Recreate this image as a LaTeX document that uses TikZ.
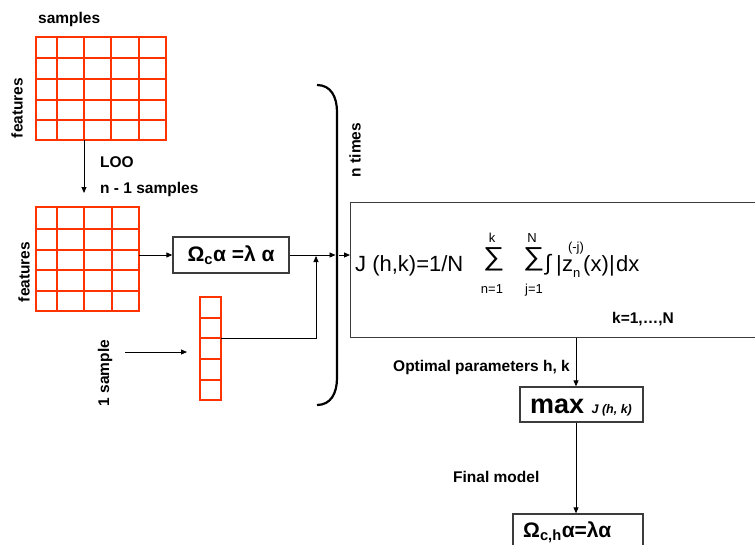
\documentclass[tikz,border=0pt]{standalone}
\usepackage{fontspec}
\setmainfont{Liberation Sans}
\usetikzlibrary{arrows.meta}
\definecolor{gridred}{RGB}{255,51,0}
\definecolor{boxgray}{RGB}{60,60,60}
\begin{document}
\begin{tikzpicture}[x=1pt,y=-1pt,
  lbl/.style={font=\fontsize{15.5}{18}\selectfont\bfseries, inner sep=0},
  arr/.style={-{Triangle[length=6pt,width=5pt]}, line width=0.9pt},
  grd/.style={draw=gridred, line width=2pt},
  bx/.style={draw=boxgray, line width=1.3pt, inner sep=0},
  jf/.style={font=\fontsize{22}{24}\selectfont, inner sep=0, anchor=base west},
  sg/.style={font=\fontsize{26}{28}\selectfont, inner sep=0, anchor=base west},
  lim/.style={font=\fontsize{13}{15}\selectfont, inner sep=0, anchor=base}]
\useasboundingbox (0,0) rectangle (755,544);
\fill[white] (0,0) rectangle (755,544);
\clip (0,0) rectangle (755,544);

% grid 1 (5x5)
\node[inner sep=0, minimum width=130pt, minimum height=103pt] (g1) at (101,88.5) {};
\foreach \x in {57,84,111,139} \draw[grd] (\x,37) -- (\x,140);
\foreach \y in {58,79,100,120} \draw[grd] (36,\y) -- (166,\y);
\draw[grd] (g1.north west) rectangle (g1.south east);

% grid 2 (4 cols x 5 rows)
\node[inner sep=0, minimum width=103pt, minimum height=104pt] (g2) at (87.5,259) {};
\foreach \x in {57,84,112} \draw[grd] (\x,207) -- (\x,311);
\foreach \y in {229,250,270,291} \draw[grd] (36,\y) -- (139,\y);
\draw[grd] (g2.north west) rectangle (g2.south east);

% column vector
\node[inner sep=0, minimum width=21pt, minimum height=103pt] (col) at (210.5,348.5) {};
\foreach \y in {318,338,359,380} \draw[grd] (200,\y) -- (221,\y);
\draw[grd] (col.north west) rectangle (col.south east);

% labels left
\node[lbl, anchor=base west] (tsamples) at (38,23) {samples};
\node[lbl, rotate=90] (tfeat1) at (17,108) {features};
\node[lbl, anchor=base west] (tloo) at (100,167) {LOO};
\node[lbl, anchor=base west] (tn1) at (100,193) {n - 1 samples};
\node[lbl, rotate=90] (tfeat2) at (24,272) {features};
\node[lbl, rotate=90] (tone) at (105,373) {1 sample};
\node[lbl, rotate=90] (tntimes) at (355,150) {n times};

% LOO arrow
\coordinate (lootip) at (84,193);
\draw[arr] (g1.south -| lootip) -- (lootip);

% Omega box
\node[bx, minimum width=116pt, minimum height=36pt] (om) at (231,255)
  {\fontsize{21}{24}\selectfont\bfseries Ω\textsubscript{c}α =λ α};
\draw[arr] (g2.east |- om.west) -- (om.west);

% brace
\draw[line width=2.2pt] (317,85) .. controls (331,85) and (337,97) .. (337,112)
  -- (337,378) .. controls (337,393) and (331,405) .. (317,405);
\coordinate (bl) at (335.5,255);
\coordinate (br) at (338.5,255);
\draw[arr] (om.east) -- (bl);

% column vector to line
\coordinate (cv) at (221,338);
\coordinate (jn) at (316,256);
\draw[arr] (cv) -| (jn);

% 1 sample arrow
\coordinate (sa) at (125,352);
\coordinate (sb) at (187,352);
\draw[arr] (sa) -- (sb);

% J box
\node[bx, minimum width=450pt, minimum height=135pt, anchor=north west] (jb) at (350,202) {};
\draw[arr] (br) -- (br -| jb.west);

\node[jf] (j1) at (355,271) {J (h,k)=1/N};
\node[sg] (s1) at (483,265) {\scalebox{1.15}[1]{∑}};
\node[lim] (k1) at (492,242) {k};
\node[lim] (n1) at (492,293) {n=1};
\node[sg] (s2) at (523,265) {\scalebox{1.15}[1]{∑}};
\node[lim] (nN) at (532,242) {N};
\node[lim] (j1b) at (534,293) {j=1};
\node[jf] (intg) at (545,270) {∫};
\node[jf] (bar1) at (556,271) {|};
\node[jf] (zz) at (562,271) {z};
\node[lim, anchor=base west] (subn) at (573,277) {n};
\node[lim] (supj) at (576,251) {(-j)};
\node[jf] (xx) at (583,271) {(x)};
\node[jf] (bar2) at (609,271) {|};
\node[jf] (dx) at (616,271) {dx};
\node[lbl, anchor=base west] (kN) at (612,323) {k=1,…,N};

% max box
\coordinate (ax) at (576,0);
\node[bx, minimum width=123pt, minimum height=35pt] (mx) at (581.5,404.5) {};
\node[inner sep=0, anchor=base] (mxt) at (581,413)
  {\fontsize{27}{29}\selectfont\bfseries max \fontsize{12.5}{14}\selectfont\bfseries\itshape J (h, k)};
\draw[arr] (jb.south -| ax) -- (mx.north -| ax);
\node[lbl, anchor=base west] (topt) at (393,371) {Optimal parameters h, k};

% final box
\node[bx, minimum width=130pt, minimum height=56pt] (fb) at (578,542) {};
\node[inner sep=0, anchor=base west] (fbt) at (523,537)
  {\fontsize{21}{24}\selectfont\bfseries Ω\textsubscript{c,h}α=λα};
\draw[arr] (mx.south -| ax) -- (fb.north -| ax);
\node[lbl, anchor=base west] (tfinal) at (453,482) {Final model};
\end{tikzpicture}
\end{document}
